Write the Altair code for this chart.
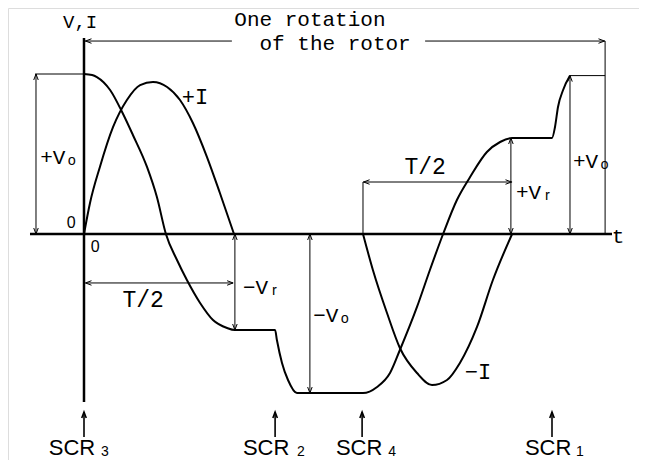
import altair as alt
import pandas as pd

# ---- data (t in units of T, v in units of V0) ----
volt_t = [0.0, 0.027, 0.043, 0.087, 0.127, 0.163, 0.21, 0.243, 0.273, 0.31, 0.343, 0.387, 0.43, 0.477, 0.503,
          0.637, 0.643, 0.66, 0.68, 0.71, 0.93, 0.977, 1.02, 1.053, 1.11, 1.153, 1.197, 1.243, 1.287, 1.343,
          1.387, 1.427, 1.56, 1.57, 1.58, 1.597, 1.62]
volt_v = [1.0, 0.994, 0.981, 0.9, 0.7625, 0.619, 0.419, 0.231, 0.0, -0.1625, -0.2875, -0.431, -0.5375, -0.5875, -0.6,
          -0.6, -0.6625, -0.806, -0.9125, -0.994, -0.994, -0.956, -0.869, -0.725, -0.456, -0.225, 0.0, 0.2125, 0.356, 0.5125,
          0.575, 0.6, 0.6, 0.669, 0.794, 0.9, 0.99]

ipos_t = [0.0, 0.02, 0.053, 0.097, 0.143, 0.187, 0.23, 0.277, 0.32, 0.363, 0.41, 0.453, 0.5]
ipos_v = [0.0, 0.194, 0.419, 0.669, 0.8375, 0.931, 0.95, 0.919, 0.8375, 0.694, 0.481, 0.256, 0.0]

ineg_t = [0.93, 0.963, 1.01, 1.053, 1.11, 1.16, 1.21, 1.253, 1.31, 1.363, 1.427]
ineg_v = [0.0, -0.225, -0.494, -0.7125, -0.869, -0.944, -0.9125, -0.806, -0.581, -0.2875, 0.0]

# axes (t1, v1, t2, v2)
axis_segs = [(-0.18, 0.0, 1.76, 0.0), (0.0, 1.225, 0.0, -1.05)]

# dimension lines (t1, v1, t2, v2)
dim_segs = [
    (0.003, 1.206, 0.493, 1.206), (1.137, 1.206, 1.737, 1.206), (1.737, 1.206, 1.737, 0.0),
    (-0.163, 1.0, 0.0, 1.0), (-0.16, 1.0, -0.16, 0.0),
    (0.005, -0.306, 0.497, -0.306),
    (0.503, 0.0, 0.503, -0.6),
    (0.753, 0.0, 0.753, -0.994),
    (0.93, 0.0, 0.93, 0.325), (0.93, 0.325, 1.427, 0.325),
    (1.423, 0.0, 1.423, 0.6),
    (1.62, 0.0, 1.62, 0.99), (1.62, 0.99, 1.737, 0.99),
]
scr_segs = [(0.0, -1.1125, 0.0, -1.269), (0.637, -1.1125, 0.637, -1.269),
            (0.927, -1.1125, 0.927, -1.269), (1.56, -1.1125, 1.56, -1.269)]

# arrowheads (t, v, direction angle: 0 right, 90 down, 180 left, 270 up)
arrow_t = [0.005, 1.735, -0.16, -0.16, 0.005, 0.497, 0.503, 0.503, 0.753, 0.753,
           0.932, 1.425, 1.423, 1.423, 1.62, 1.62]
arrow_v = [1.206, 1.206, 1.0, 0.0, -0.306, -0.306, 0.0, -0.6, 0.0, -0.994,
           0.325, 0.325, 0.0, 0.6, 0.0, 0.99]
arrow_a = [180, 0, 270, 90, 180, 0, 270, 90, 270, 90, 180, 0, 90, 270, 90, 270]
scr_arrow_t = [0.0, 0.637, 0.927, 1.56]
scr_arrow_v = [-1.1125, -1.1125, -1.1125, -1.1125]

# monospace labels
labels = ["One rotation", "of the rotor", "V,I", "+Vₒ", "+I", "T/2", "−Vᵣ", "−Vₒ",
          "T/2", "+Vᵣ", "+Vₒ", "−I", "t"]
label_t = [0.753, 0.837, -0.013, -0.083, 0.37, 0.197, 0.593, 0.827,
           1.137, 1.503, 1.693, 1.313, 1.78]
label_v = [1.335, 1.19, 1.325, 0.475, 0.856, -0.4125, -0.3375, -0.5125,
           0.419, 0.256, 0.45, -0.8625, -0.02]
label_size = [21, 21, 19, 21, 22, 23, 21, 21, 23, 21, 21, 22, 21]

# sans labels: zeros and SCR markers
sans_labels = ["0", "0", "SCR", "SCR", "SCR", "SCR", "3", "2", "4", "1"]
sans_t = [-0.043, 0.037, -0.04, 0.607, 0.917, 1.547, 0.07, 0.723, 1.027, 1.653]
sans_v = [0.069, -0.081, -1.34, -1.34, -1.34, -1.34, -1.36, -1.36, -1.36, -1.36]
sans_size = [16, 16, 22, 22, 22, 22, 14, 14, 14, 14]

# ---- tables ----
curves = pd.concat([
    pd.DataFrame({"t": volt_t, "v": volt_v, "s": "V"}),
    pd.DataFrame({"t": ipos_t, "v": ipos_v, "s": "+I"}),
    pd.DataFrame({"t": ineg_t, "v": ineg_v, "s": "-I"}),
])
seg_cols = ["t1", "v1", "t2", "v2"]
axis_df = pd.DataFrame(axis_segs, columns=seg_cols)
dim_df = pd.DataFrame(dim_segs, columns=seg_cols)
scr_df = pd.DataFrame(scr_segs, columns=seg_cols)
arrow_df = pd.DataFrame({"t": arrow_t, "v": arrow_v, "a": arrow_a})
scr_arrow_df = pd.DataFrame({"t": scr_arrow_t, "v": scr_arrow_v, "a": [270] * 4})
label_df = pd.DataFrame({"t": label_t, "v": label_v, "txt": labels, "fs": label_size})
sans_df = pd.DataFrame({"t": sans_t, "v": sans_v, "txt": sans_labels, "fs": sans_size})

xs = alt.Scale(domain=[-0.25333, 1.85], nice=False, zero=False)
ys = alt.Scale(domain=[-1.4125, 1.4125], nice=False, zero=False)
X = lambda f: alt.X(f, type="quantitative", scale=xs, axis=None)
Y = lambda f: alt.Y(f, type="quantitative", scale=ys, axis=None)

chevron = "M -2 -0.75 L 0 0 L -2 0.75"

curve_layer = alt.Chart(curves).mark_line(color="black", strokeWidth=2, interpolate="monotone").encode(
    x=X("t"), y=Y("v"), detail="s:N", order="t:Q")

axis_layer = alt.Chart(axis_df).mark_rule(color="black", strokeWidth=2.5).encode(
    x=X("t1"), y=Y("v1"), x2="t2", y2="v2")
dim_layer = alt.Chart(dim_df).mark_rule(color="black", strokeWidth=1).encode(
    x=X("t1"), y=Y("v1"), x2="t2", y2="v2")
scr_layer = alt.Chart(scr_df).mark_rule(color="black", strokeWidth=1.6).encode(
    x=X("t1"), y=Y("v1"), x2="t2", y2="v2")

arrow_layer = alt.Chart(arrow_df).mark_point(shape=chevron, filled=False, color="black",
                                              strokeWidth=1, size=36, opacity=1).encode(
    x=X("t"), y=Y("v"), angle=alt.Angle("a:Q", scale=None))
scr_arrow_layer = alt.Chart(scr_arrow_df).mark_point(shape=chevron, filled=False, color="black",
                                                      strokeWidth=1.6, size=36, opacity=1).encode(
    x=X("t"), y=Y("v"), angle=alt.Angle("a:Q", scale=None))

label_layer = alt.Chart(label_df).mark_text(font="Liberation Mono", color="black", align="center",
                                             baseline="middle").encode(
    x=X("t"), y=Y("v"), text="txt:N", size=alt.Size("fs:Q", scale=None))
sans_layer = alt.Chart(sans_df).mark_text(font="Liberation Sans", color="black", align="center",
                                           baseline="middle").encode(
    x=X("t"), y=Y("v"), text="txt:N", size=alt.Size("fs:Q", scale=None))

chart = alt.layer(axis_layer, dim_layer, scr_layer, curve_layer, arrow_layer, scr_arrow_layer,
                  label_layer, sans_layer).properties(
    width=631, height=452, padding=0, autosize=alt.AutoSizeParams(type="none")
).configure_view(stroke=None).configure(background="white")

chart.save("out.html", embed_options={"renderer": "svg", "actions": False})
